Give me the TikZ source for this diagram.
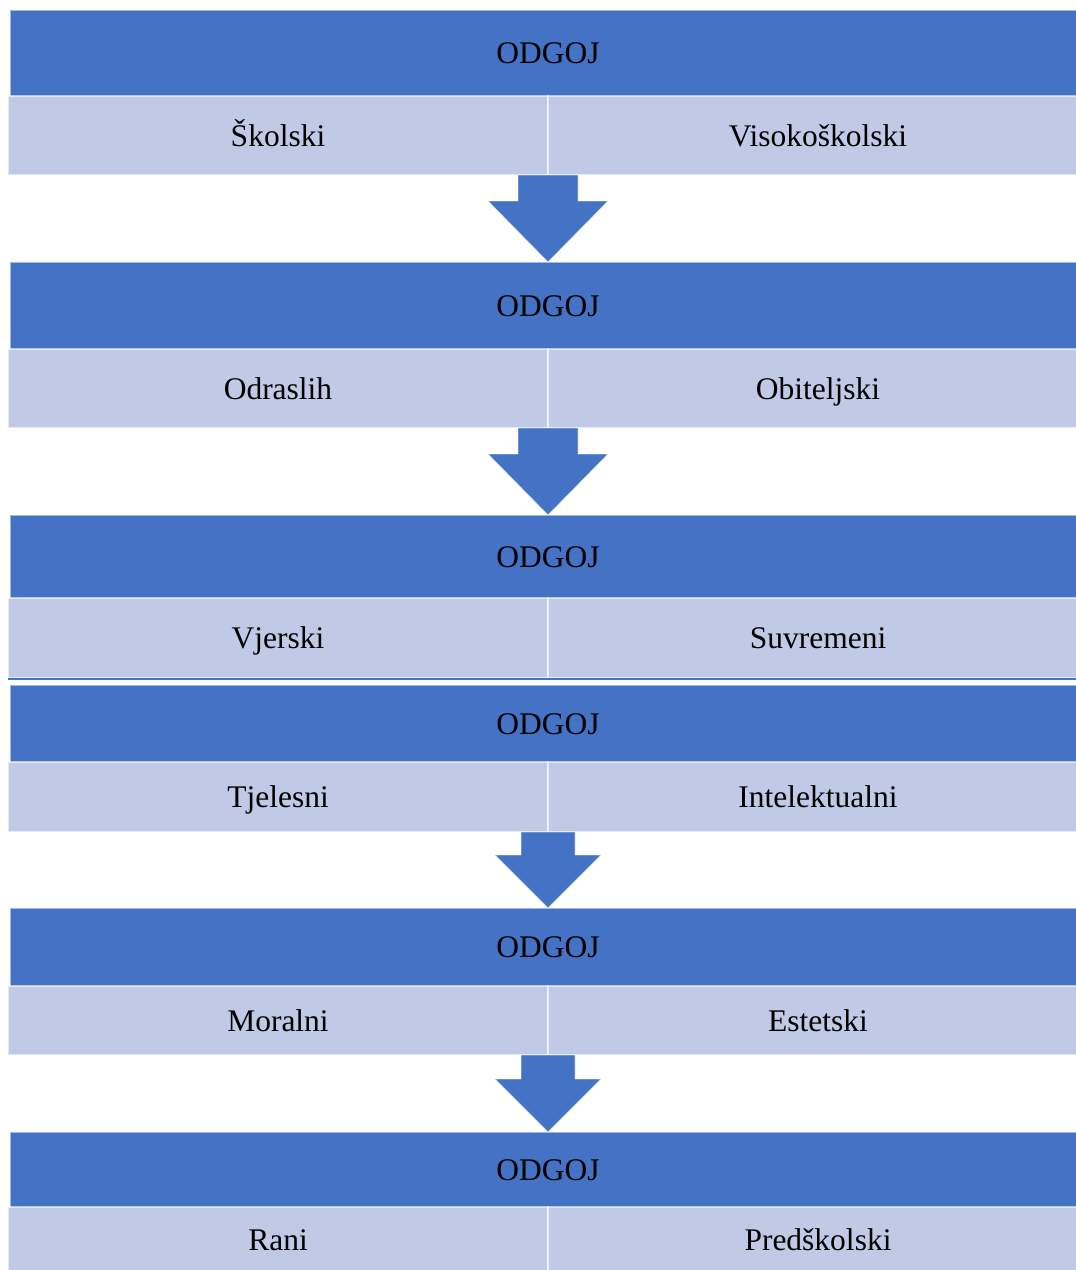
\documentclass[tikz,border=0pt]{standalone}
\usepackage{fontspec}
\setmainfont{Liberation Serif}
\definecolor{hdblue}{HTML}{4472C4}
\definecolor{celllight}{HTML}{C0CAE6}
\begin{document}
\begin{tikzpicture}[x=1pt,y=-1pt,
  band/.style={rectangle, fill=hdblue, draw=white, draw opacity=0.5, line width=1pt,
    minimum width=1076pt, anchor=north west, inner sep=0pt, outer sep=0pt,
    text height=24pt, text depth=3pt,
    font=\fontsize{31.5}{36}\selectfont, text=black},
  cell/.style={rectangle, fill=celllight, draw=white, draw opacity=0.6, line width=1.5pt,
    minimum width=540pt, anchor=north west, inner sep=0pt, outer sep=0pt,
    text height=24pt, text depth=3pt,
    font=\fontsize{31.5}{36}\selectfont, text=black},
  downarrow/.style={fill=hdblue, draw=white, draw opacity=0.6, line width=0.8pt}]
\clip (0,0) rectangle (1076,1270);
\fill[white] (0,0) rectangle (1076,1270);
% block 1
\node[band, minimum height=86pt] (h1) at (10,10) {ODGOJ};
\node[cell, minimum height=79pt] (l1) at (8,96) {Školski};
\node[cell, minimum height=79pt] (r1) at (548,96) {Visokoškolski};
% block 2
\node[band, minimum height=87pt] (h2) at (10,262) {ODGOJ};
\node[cell, minimum height=79pt] (l2) at (8,349) {Odraslih};
\node[cell, minimum height=79pt] (r2) at (548,349) {Obiteljski};
% block 3
\node[band, minimum height=83pt] (h3) at (10,515) {ODGOJ};
\node[cell, minimum height=80pt] (l3) at (8,598) {Vjerski};
\node[cell, minimum height=80pt] (r3) at (548,598) {Suvremeni};
\coordinate (s3a) at (8,679);
\coordinate (s3b) at (1076,679);
\draw[hdblue, line width=1.5pt] (s3a) -- (s3b);
% block 4
\node[band, minimum height=77pt] (h4) at (10,685) {ODGOJ};
\node[cell, minimum height=70pt] (l4) at (8,762) {Tjelesni};
\node[cell, minimum height=70pt] (r4) at (548,762) {Intelektualni};
% block 5
\node[band, minimum height=78pt] (h5) at (10,908) {ODGOJ};
\node[cell, minimum height=69pt] (l5) at (8,986) {Moralni};
\node[cell, minimum height=69pt] (r5) at (548,986) {Estetski};
% block 6
\node[band, minimum height=75pt] (h6) at (10,1132) {ODGOJ};
\node[cell, minimum height=66pt] (l6) at (8,1207) {Rani};
\node[cell, minimum height=66pt] (r6) at (548,1207) {Predškolski};
% arrows
\draw[downarrow] (518,175) -- (578,175) -- (578,201) -- (608,201) -- (548,262) -- (488,201) -- (518,201) -- cycle;
\draw[downarrow] (518,428) -- (578,428) -- (578,454) -- (608,454) -- (548,515) -- (488,454) -- (518,454) -- cycle;
\draw[downarrow] (521,832) -- (575,832) -- (575,855) -- (601,855) -- (548,908) -- (495,855) -- (521,855) -- cycle;
\draw[downarrow] (521,1055) -- (575,1055) -- (575,1079) -- (601,1079) -- (548,1132) -- (495,1079) -- (521,1079) -- cycle;
\end{tikzpicture}
\end{document}
